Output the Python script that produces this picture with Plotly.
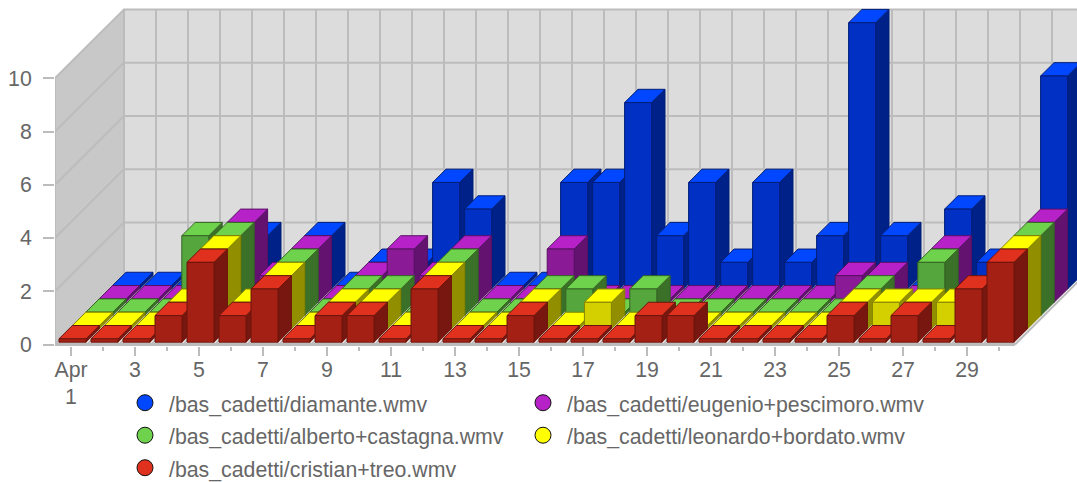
import plotly.graph_objects as go

days = list(range(1, 31))
odd_days = [d for d in days if d % 2 == 1]
even_days = [d for d in days if d % 2 == 0]
x_labels = ["Apr<br>1"] + [str(d) for d in odd_days[1:]]
y_ticks = [0, 2, 4, 6, 8, 10]

diamante = [0,0,0,0,2,0,2,0,1,1,4,3,0,0,4,4,7,2,4,1,4,1,2,10,2,0,3,1,0,8]
eugenio = [0,0,0,0,3,1,2,0,1,2,1,2,0,0,2,0,0,0,0,0,0,0,0,1,1,0,2,0,0,3]
alberto = [0,0,0,3,3,0,2,0,1,1,0,2,0,0,1,1,0,1,0,0,0,0,0,0,1,0,2,0,0,3]
leonardo = [0,0,0,1,3,1,2,0,1,1,0,2,0,0,1,0,1,0,0,0,0,0,0,0,1,1,1,1,0,3]
cristian = [0,0,0,1,3,1,2,0,1,1,0,2,0,0,1,0,0,0,1,1,0,0,0,0,1,0,1,0,2,3]

# back to front; (name, values, legend/top colour, front colour, side colour, outline)
series = [
    ("/bas_cadetti/diamante.wmv", diamante, "#0047ff", "#0030c4", "#002288", "#001e78"),
    ("/bas_cadetti/eugenio+pescimoro.wmv", eugenio, "#b722c8", "#8a1a96", "#631270", "#581064"),
    ("/bas_cadetti/alberto+castagna.wmv", alberto, "#6fd24d", "#55a63c", "#3b7029", "#356524"),
    ("/bas_cadetti/leonardo+bordato.wmv", leonardo, "#ffff00", "#d4d000", "#918f00", "#858300"),
    ("/bas_cadetti/cristian+treo.wmv", cristian, "#e0301e", "#a52014", "#78170f", "#6b140d"),
]

# projection, expressed in axis units
DEPTH_X = 69 / 32
DEPTH_Y = 69 / 26.67
ROW_X = 13.4 / 32
ROW_Y = 0.5
BAR_W = 27 / 32
BAR_LEFT = 4 / 32
BASE_Y = 0.086
ZERO_H = 0.128
GRID = "#bcbcbc"
TEXT = "#666666"
FONT = "Liberation Sans"
FS = 21.3
LEFT = 0.5
RIGHT = 30.5

fig = go.Figure()


def lines(xs, ys, width=2, fill=None, color=GRID):
    fig.add_trace(go.Scatter(x=xs, y=ys, mode="lines", showlegend=False, hoverinfo="skip",
                             line=dict(color=color, width=width),
                             fill="toself" if fill else None, fillcolor=fill))


# walls
top = y_ticks[-1]
fig.add_trace(go.Scatter(
    x=[LEFT + DEPTH_X, RIGHT + DEPTH_X, RIGHT + DEPTH_X, LEFT + DEPTH_X],
    y=[DEPTH_Y, DEPTH_Y, top + DEPTH_Y, top + DEPTH_Y],
    mode="none", fill="toself", fillcolor="#dcdcdc", showlegend=False, hoverinfo="skip"))
fig.add_trace(go.Scatter(
    x=[LEFT, LEFT + DEPTH_X, LEFT + DEPTH_X, LEFT],
    y=[0, DEPTH_Y, top + DEPTH_Y, top],
    mode="none", fill="toself", fillcolor="#c8c8c8", showlegend=False, hoverinfo="skip"))

gx, gy = [], []
for v in y_ticks:
    gx += [LEFT, LEFT + DEPTH_X, RIGHT + DEPTH_X, None]
    gy += [v, v + DEPTH_Y, v + DEPTH_Y, None]
for k in range(31):
    e = LEFT + k
    gx += [e + DEPTH_X, e + DEPTH_X, None]
    gy += [DEPTH_Y, top + DEPTH_Y, None]
    gx += [e, e + DEPTH_X, None]
    gy += [0, DEPTH_Y, None]
gx += [LEFT, LEFT, None]
gy += [0, top, None]
lines(gx, gy)
lines([LEFT, RIGHT], [0, 0], width=3)

# bars
for i, (name, vals, c_top, c_front, c_side, c_edge) in enumerate(series):
    row = len(series) - 1 - i
    sx, sy, tx, ty, fx, fy = [], [], [], [], [], []
    for d, v in zip(days, vals):
        x0 = d - 0.5 + BAR_LEFT + row * ROW_X
        x1 = x0 + BAR_W
        y0 = BASE_Y + row * ROW_Y
        y1 = y0 + (v if v > 0 else ZERO_H)
        fx += [x0, x1, x1, x0, x0, None]
        fy += [y0, y0, y1, y1, y0, None]
        tx += [x0, x1, x1 + ROW_X, x0 + ROW_X, x0, None]
        ty += [y1, y1, y1 + ROW_Y, y1 + ROW_Y, y1, None]
        sx += [x1, x1 + ROW_X, x1 + ROW_X, x1, x1, None]
        sy += [y0, y0 + ROW_Y, y1 + ROW_Y, y1, y0, None]
    lines(sx, sy, width=1, fill=c_side, color=c_edge)
    lines(tx, ty, width=1, fill=c_top, color=c_edge)
    lines(fx, fy, width=1, fill=c_front, color=c_edge)

# legend entries: the legend font sets the row pitch, the span the visible size
for name, vals, c_top, *_ in series:
    fig.add_trace(go.Scatter(x=[None], y=[None], mode="markers",
                             name=f'<span style="font-size:{FS}px">{name}</span>',
                             marker=dict(size=16, color=c_top, line=dict(color="#111111", width=1))))

W, H = 1077, 482
PLOT_LEFT, PLOT_BOTTOM = 55, 346.5
fig.update_layout(
    width=W, height=H, margin=dict(l=PLOT_LEFT, r=0, t=0, b=H - PLOT_BOTTOM, autoexpand=False),
    paper_bgcolor="white", plot_bgcolor="white", hovermode=False,
    font=dict(family=FONT, size=FS, color=TEXT),
    legend=dict(orientation="h", x=(121 - PLOT_LEFT) / (W - PLOT_LEFT), xanchor="left",
                y=(PLOT_BOTTOM - 382) / PLOT_BOTTOM, yanchor="top",
                entrywidth=345, entrywidthmode="pixels", itemsizing="trace", itemwidth=38,
                font=dict(family=FONT, size=22.7, color=TEXT), traceorder="normal",
                bgcolor="rgba(0,0,0,0)"),
    xaxis=dict(range=[LEFT, LEFT + (W - PLOT_LEFT) / 32], showgrid=False, zeroline=False, showline=False,
               tickmode="array", tickvals=odd_days, ticktext=x_labels, ticks="outside", ticklen=9,
               tickwidth=2, tickcolor=GRID, tickangle=0, ticklabelstandoff=-5,
               minor=dict(tickmode="array", tickvals=even_days, ticks="outside", ticklen=4,
                          tickwidth=2, tickcolor=GRID)),
    yaxis=dict(range=[-0.056, 12.94], showgrid=False, zeroline=False, showline=False,
               tickmode="array", tickvals=y_ticks, ticks="outside", ticklen=11,
               tickwidth=2, tickcolor=GRID, ticklabelstandoff=7),
)
fig.write_html("out.html", config={"displayModeBar": False},
               post_script="document.body.style.margin='0';"
                           "document.head.insertAdjacentHTML('beforeend',"
                           "'<style>.legend .scrollbox{clip-path:none !important}</style>');")
